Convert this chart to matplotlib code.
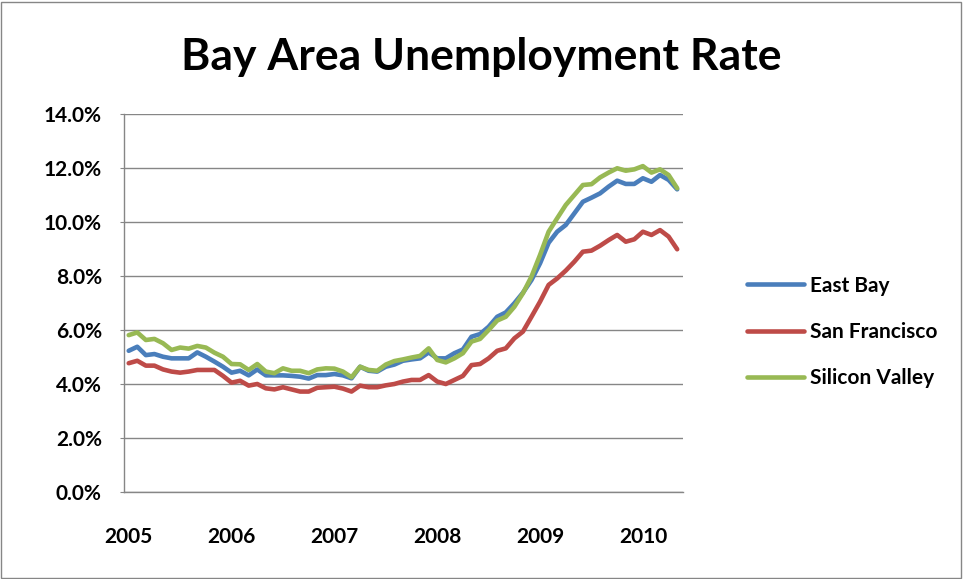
import matplotlib
matplotlib.use("Agg")
import matplotlib.pyplot as plt
from matplotlib.patches import Rectangle
import numpy as np

plt.rcParams['font.family'] = ['Lato', 'DejaVu Sans']

# Monthly values, Jan 2005 .. May 2010 (percent)
east_bay = [5.23, 5.38, 5.07, 5.11, 5.01, 4.95, 4.95, 4.95, 5.17, 5.01,
            4.83, 4.64, 4.42, 4.49, 4.32, 4.54, 4.32, 4.32, 4.32, 4.30,
            4.27, 4.20, 4.33, 4.33, 4.37, 4.32, 4.21, 4.64, 4.49, 4.46,
            4.64, 4.72, 4.86, 4.91, 4.95, 5.17, 4.95, 4.95, 5.14, 5.28,
            5.75, 5.85, 6.12, 6.49, 6.65, 6.99, 7.38, 7.85, 8.47, 9.23,
            9.64, 9.89, 10.32, 10.75, 10.90, 11.06, 11.31, 11.53, 11.41, 11.41,
            11.62, 11.49, 11.74, 11.56, 11.21]
san_francisco = [4.77, 4.86, 4.68, 4.68, 4.54, 4.46, 4.42, 4.46, 4.52, 4.52,
                 4.52, 4.30, 4.05, 4.12, 3.94, 4.00, 3.84, 3.80, 3.88, 3.80,
                 3.72, 3.72, 3.86, 3.88, 3.90, 3.83, 3.72, 3.94, 3.88, 3.88,
                 3.95, 4.00, 4.09, 4.15, 4.15, 4.33, 4.09, 4.00, 4.15, 4.30,
                 4.70, 4.74, 4.95, 5.23, 5.32, 5.69, 5.94, 6.49, 7.05, 7.67,
                 7.91, 8.20, 8.53, 8.90, 8.94, 9.12, 9.33, 9.52, 9.27, 9.36,
                 9.64, 9.52, 9.70, 9.46, 8.99]
silicon_valley = [5.81, 5.91, 5.63, 5.67, 5.51, 5.26, 5.35, 5.31, 5.41, 5.35,
                  5.16, 5.01, 4.74, 4.73, 4.52, 4.74, 4.46, 4.40, 4.58, 4.49,
                  4.49, 4.40, 4.54, 4.58, 4.57, 4.46, 4.25, 4.64, 4.52, 4.49,
                  4.72, 4.85, 4.91, 4.98, 5.04, 5.32, 4.89, 4.80, 4.95, 5.14,
                  5.57, 5.67, 6.00, 6.35, 6.49, 6.86, 7.36, 7.98, 8.78, 9.64,
                  10.14, 10.63, 11.00, 11.37, 11.40, 11.65, 11.83, 11.99, 11.90, 11.95,
                  12.07, 11.83, 11.95, 11.74, 11.25]
year_labels = ["2005", "2006", "2007", "2008", "2009", "2010"]
y_ticks = [0, 2, 4, 6, 8, 10, 12, 14]

series = [("East Bay", east_bay, "#4A7EBB"),
          ("San Francisco", san_francisco, "#BE4B48"),
          ("Silicon Valley", silicon_valley, "#98B954")]

W, H = 963, 579
fig = plt.figure(figsize=(W / 100, H / 100), dpi=100)
fig.patch.set_facecolor("white")
fig.patches.append(Rectangle((1 / W, 1 / H), (W - 3) / W, (H - 3) / H,
                             transform=fig.transFigure, fill=False,
                             edgecolor="#868686", linewidth=1.0))

ax = fig.add_axes([124 / W, 87 / H, (683 - 124) / W, (492 - 114) / H])

months = np.arange(len(east_bay))
for name, vals, col in series:
    ax.plot(months, vals, color=col, linewidth=3.3, label=name,
            solid_joinstyle="round", solid_capstyle="round")

ax.set_xlim(-0.55, 64.68)
ax.set_ylim(0, 14)
ax.set_yticks(y_ticks)
ax.set_yticklabels([f"{v:.1f}%" for v in y_ticks])
ax.set_xticks(np.arange(len(year_labels)) * 12)
ax.set_xticklabels(year_labels)
ax.grid(axis="y", color="#868686", linewidth=1.0)
ax.set_axisbelow(True)
for s in ["top", "right"]:
    ax.spines[s].set_visible(False)
for s in ["left", "bottom"]:
    ax.spines[s].set_color("#868686")
    ax.spines[s].set_linewidth(1.0)
ax.tick_params(axis="y", length=3, color="#868686", pad=13, labelsize=15)
ax.tick_params(axis="x", length=0, pad=25, labelsize=15)
for lab in ax.get_xticklabels() + ax.get_yticklabels():
    lab.set_fontweight("bold")

fig.text(481 / W, 1 - 70 / H, "Bay Area Unemployment Rate", ha="center",
         va="baseline", fontsize=32, fontweight="bold")

leg = ax.legend(loc="center left", bbox_to_anchor=(728 / W, 1 - 332 / H),
                bbox_transform=fig.transFigure, frameon=False,
                prop={"weight": "bold", "size": 15}, handlelength=2.75,
                handletextpad=0.3, labelspacing=1.26)

fig.savefig("out.png", dpi=100)
